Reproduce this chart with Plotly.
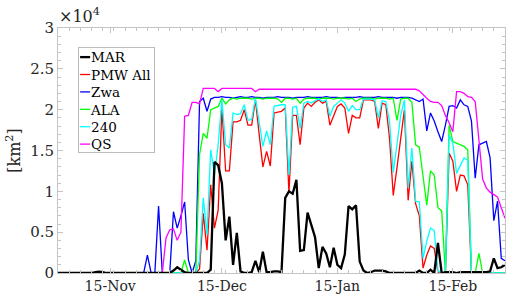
import pandas as pd
import plotly.graph_objects as go

dates = pd.date_range("2014-11-01", periods=121, freq="D")

mar = [0, 0, 0, 0, 0, 0, 0, 0, 0, 0,
       100, 150, 100, 0, 0, 0, 0, 0, 0, 0,
       0, 0, 0, 0, 0, 0, 0, 0, 0, 0,
       0, 300, 700, 400, 100, 0, 0, 0, 0, 0,
       0, 400, 13600, 13200, 11000, 4000, 6900, 1000, 4900, 200,
       0, 0, 100, 1500, 100, 2600, 100, 100, 200, 200,
       100, 9200, 10000, 9700, 11400, 2700, 2800, 7400, 5800, 4400,
       600, 3200, 2400, 700, 3100, 1000, 600, 2300, 8200, 7800,
       8300, 1400, 300, 0, 100, 300, 300, 300, 200, 0,
       0, 0, 0, 0, 0, 0, 0, 300, 0, 0,
       400, 0, 3700, 0, 100, 100, 100, 0, 100, 100,
       100, 100, 100, 100, 100, 100, 200, 1800, 600, 700,
       1000]

pmw_all = [0, 0, 0, 0, 0, 0, 0, 0, 0, 0,
           0, 0, 0, 0, 0, 0, 0, 0, 0, 0,
           0, 0, 0, 0, 0, 0, 0, 0, 0, 0,
           0, 0, 0, 0, 0, 0, 0, 0, 500, 7300,
           2800, 10800, 5500, 7700, 20200, 12500, 12500, 18500, 18500, 18700,
           20000, 18100, 18100, 21200, 17000, 13000, 14900, 13100, 19600, 19700,
           19800, 20200, 9800, 19300, 19300, 15700, 20200, 20800, 20400, 20900,
           21200, 20800, 21000, 18100, 19200, 20400, 20700, 20200, 17100, 19300,
           19000, 19000, 21200, 21200, 21200, 21000, 17700, 20800, 20600, 16500,
           9500, 12900, 16500, 20000, 8900, 13700, 8500, 7000, 600, 2200,
           3300, 3000, 0, 0, 0, 14700, 13700, 10000, 12000, 11900,
           10800, 0, 0, 0, 0, 0, 0, 0, 0, 0,
           0]

zwa = [0, 0, 0, 0, 0, 0, 0, 0, 0, 0,
       0, 0, 0, 0, 0, 0, 0, 0, 0, 0,
       0, 0, 0, 0, 2200, 0, 0, 8200, 0, 0,
       0, 7500, 5500, 7000, 8700, 1600, 0, 1500, 21000, 21400,
       19800, 21300, 21500, 21500, 21600, 21500, 21500, 21400, 21500, 21600,
       21500, 21500, 21600, 21500, 21500, 21400, 21500, 21500, 21500, 21600,
       21500, 21500, 21500, 21400, 21500, 21500, 21500, 21600, 21500, 21500,
       21500, 21500, 21600, 21500, 21500, 21500, 21400, 21500, 21500, 21500,
       21500, 21600, 21500, 21500, 21500, 21500, 21600, 21500, 21500, 21500,
       21500, 21400, 21500, 21500, 21500, 21400, 21200, 21000, 21300, 17400,
       19600, 18600, 17300, 16100, 18100, 20400, 20500, 20200, 21200, 20600,
       20400, 18600, 11600, 15700, 15900, 16100, 14100, 6400, 8800, 1800,
       1500]

ala = [0, 0, 0, 0, 0, 0, 0, 0, 0, 0,
       0, 0, 0, 0, 0, 0, 0, 0, 0, 0,
       0, 0, 0, 0, 0, 0, 0, 0, 0, 0,
       0, 0, 0, 0, 1600, 0, 0, 0, 14500, 17100,
       16500, 20000, 20200, 20400, 21400, 20700, 21200, 21400, 21300, 21400,
       21400, 21400, 21300, 21400, 21400, 21300, 21400, 21400, 21400, 21300,
       20900, 21400, 21400, 21300, 21400, 20800, 21300, 21400, 21400, 21400,
       21300, 21400, 21400, 21400, 21300, 21400, 21400, 21400, 21300, 21400,
       21000, 21300, 21400, 21400, 21400, 21300, 21400, 21400, 21400, 21300,
       21400, 18700, 21300, 21400, 21400, 20900, 15700, 15400, 12000, 8300,
       12500, 12000, 8000, 7600, 0, 18100, 16100, 15900, 15700, 15500,
       15100, 0, 0, 2400, 0, 0, 0, 0, 0, 0,
       0]

c240 = [0, 0, 0, 0, 0, 0, 0, 0, 0, 0,
        0, 0, 0, 0, 0, 0, 0, 0, 0, 0,
        0, 0, 0, 0, 0, 0, 0, 0, 0, 0,
        0, 0, 0, 0, 0, 0, 0, 0, 1500, 9200,
        4700, 15100, 12000, 15700, 21200, 15700, 15300, 19600, 19400, 19500,
        20600, 18700, 18800, 21400, 18500, 15500, 17400, 15700, 20400, 20500,
        20600, 20600, 12000, 20300, 20400, 17700, 20800, 21000, 20800, 21100,
        21300, 21000, 21200, 19200, 20400, 20800, 21200, 20800, 19800, 20500,
        20000, 20000, 21300, 21300, 21300, 21200, 19000, 21100, 21000, 18600,
        12300, 15700, 19300, 21200, 10400, 15300, 8800, 8700, 1800, 3900,
        5500, 5200, 300, 0, 0, 16900, 15900, 12200, 13200, 14100,
        13800, 0, 0, 0, 0, 0, 0, 0, 0, 0,
        0]

qs = [0, 0, 0, 0, 0, 0, 0, 0, 0, 0,
      0, 0, 0, 0, 0, 0, 0, 0, 0, 0,
      0, 0, 0, 0, 0, 0, 0, 0, 0, 4300,
      5300, 5400, 4000, 5000, 19200, 19300, 20900, 20900, 20700, 22600,
      22600, 22600, 22600, 22200, 22600, 22600, 22600, 22600, 22600, 22600,
      22600, 22600, 22600, 22200, 22500, 22500, 22500, 22500, 22500, 22500,
      22500, 22500, 22500, 22500, 22500, 22500, 22500, 22500, 22500, 22500,
      22500, 22500, 22500, 22500, 22500, 22500, 22500, 22500, 22500, 22500,
      22500, 22500, 22500, 22500, 22500, 22500, 22500, 22500, 22500, 22500,
      22500, 22500, 22500, 22500, 22500, 22500, 22500, 22300, 21800, 21400,
      21000, 20900, 20900, 20500, 19300, 18400, 17300, 22200, 22200, 22000,
      21600, 21500, 21000, 16000, 11500, 10400, 9900, 9600, 9300, 8000,
      6700]

x_tick_dates = ["2014-11-15", "2014-12-15", "2015-01-15", "2015-02-15"]
y_tick_vals = [0, 5000, 10000, 15000, 20000, 25000, 30000]
y_tick_text = ["0", "0.5", "1", "1.5", "2", "2.5", "3"]

# (name, values, colour, width, legend rank) in drawing order
series = [
    ("PMW All", pmw_all, "#ff0000", 1.3, 2),
    ("Zwa", zwa, "#0000ff", 1.3, 3),
    ("ALA", ala, "#00ff00", 1.3, 4),
    ("240", c240, "#00ffff", 1.3, 5),
    ("QS", qs, "#ff00ff", 1.3, 6),
    ("MAR", mar, "#000000", 2.3, 1),
]

FONT = "DejaVu Serif"
AXIS_GREY = "#c4c4c4"
TEXT = "#262626"

fig = go.Figure()
for name, vals, col, w, rank in series:
    fig.add_trace(go.Scatter(x=dates, y=vals, mode="lines", name=name,
                             line=dict(color=col, width=w), legendrank=rank))

fig.update_layout(
    width=507, height=304,
    margin=dict(l=58, r=2, t=28, b=31, autoexpand=False),
    paper_bgcolor="white", plot_bgcolor="white",
    font=dict(family=FONT, color=TEXT, size=14),
    showlegend=True,
    legend=dict(x=0.045, y=0.922, xanchor="left", yanchor="top",
                bgcolor="white", bordercolor="#bcbcbc", borderwidth=1,
                font=dict(family=FONT, size=13.5, color="#000000"),
                itemwidth=30, tracegroupgap=0),
)

fig.update_xaxes(
    type="date", range=["2014-11-01", "2015-03-01"], automargin=False,
    tickmode="array", tickvals=x_tick_dates, tickformat="%d-%b",
    ticks="inside", ticklen=5, tickcolor=AXIS_GREY,
    showline=True, linecolor=AXIS_GREY, linewidth=1, mirror="allticks",
    showgrid=False, zeroline=False,
    tickfont=dict(family=FONT, size=14, color=TEXT),
    minor=dict(ticks="inside", ticklen=3, tickcolor=AXIS_GREY,
               dtick=3 * 86400000, tick0="2014-11-01", showgrid=False),
)
fig.update_yaxes(
    range=[0, 30000], automargin=False,
    tickmode="array", tickvals=y_tick_vals, ticktext=y_tick_text,
    ticks="inside", ticklen=5, tickcolor=AXIS_GREY,
    showline=True, linecolor=AXIS_GREY, linewidth=1, mirror="allticks",
    showgrid=False, zeroline=False,
    tickfont=dict(family=FONT, size=15, color=TEXT),
    title=dict(text="[km<sup>2</sup>]", font=dict(family=FONT, size=16, color=TEXT),
               standoff=5),
    minor=dict(ticks="inside", ticklen=3, tickcolor=AXIS_GREY,
               dtick=1000, tick0=0, showgrid=False),
)

fig.add_annotation(xref="paper", yref="paper", x=0, y=1, xanchor="left",
                   yanchor="bottom", showarrow=False, xshift=-1, yshift=0,
                   text="\u00d710<sup>4</sup>",
                   font=dict(family=FONT, size=16, color=TEXT))

# page without body margin, and a MATLAB-style compact legend
post_js = """
document.body.style.margin = '0';
document.body.style.padding = '0';
var gd = document.getElementById('{plot_id}');
function compactLegend() {
  var traces = gd.querySelectorAll('g.legend g.traces');
  if (!traces.length) return;
  var maxw = 0;
  traces.forEach(function (t, i) {
    t.setAttribute('transform', 'translate(1,' + (10 + i * 17.4) + ')');
    t.querySelectorAll('path.js-line').forEach(function (p) {
      p.setAttribute('d', 'M1,0h10');
    });
    var tx = t.querySelector('text.legendtext');
    if (tx) {
      tx.setAttribute('x', '12');
      var w = tx.getComputedTextLength();
      if (w > maxw) maxw = w;
    }
  });
  var bg = gd.querySelector('g.legend rect.bg');
  if (bg) {
    bg.setAttribute('width', 12 + maxw + 4);
    bg.setAttribute('height', 10 + (traces.length - 1) * 17.4 + 8);
  }
}
compactLegend();
gd.on('plotly_afterplot', compactLegend);
"""

fig.write_html("out.html", post_script=post_js,
               config={"displayModeBar": False})
